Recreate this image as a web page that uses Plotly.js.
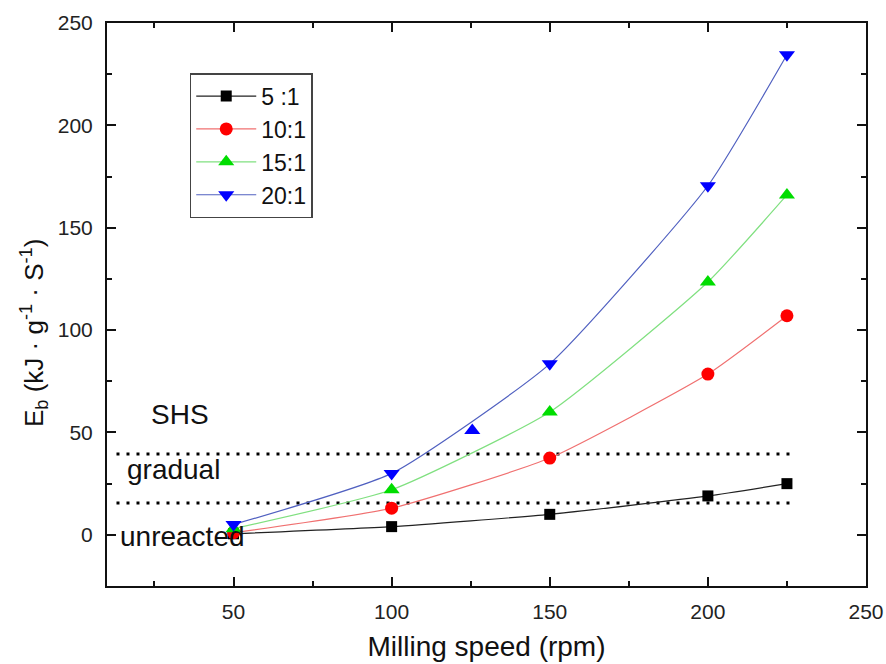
<!DOCTYPE html>
<html>
<head>
<meta charset="utf-8">
<script src="https://cdn.plot.ly/plotly-3.0.1.min.js"></script>
<style>
  html, body { margin: 0; padding: 0; background: #ffffff; }
  #chart { width: 886px; height: 664px; }
</style>
</head>
<body>
<div id="chart"></div>
<script>
// Milling speed (rpm) and ball-impact energy E_b for four ball-to-powder ratios
const speeds = [50, 100, 150, 200, 225];
const seriesNames = ['5 :1', '10:1', '15:1', '20:1'];
const ratio5 = [0.5, 4, 10, 19, 25];
const ratio10 = [1, 13, 37.5, 78.5, 107];
const ratio15 = [3, 22, 60, 123.5, 166];
const ratio20 = [5, 30, 83.5, 170.5, 234.5];

// Isolated extra point drawn as an up-triangle
const extraX = [125.5];
const extraY = [51];

// Reaction-regime boundaries and their labels
const boundaryX = [13, 228];
const upperBoundary = [39.5, 39.5];
const lowerBoundary = [15.5, 15.5];
const regimeLabels = ['SHS', 'gradual', 'unreacted'];
const regimeX = [33, 31, 34];
const regimeY = [59, 32, -1];

const markerColors = ['#000000', '#ff0000', '#00dd00', '#0000ff'];
const lineColors = ['#222222', '#f07070', '#80e080', '#5060c0'];
const symbols = ['square', 'circle', 'triangle-up', 'triangle-down'];
const sizes = [11, 13, 14, 14];
const values = [ratio5, ratio10, ratio15, ratio20];

const FONT = '"Liberation Sans", Arial, sans-serif';

const traces = values.map((ys, i) => ({
  type: 'scatter',
  mode: 'lines+markers',
  name: seriesNames[i],
  x: speeds,
  y: ys,
  line: { color: lineColors[i], width: 1.2, shape: 'spline', smoothing: 0.5 },
  marker: { color: markerColors[i], symbol: symbols[i], size: sizes[i], line: { width: 0 } }
}));

traces.push({
  type: 'scatter', mode: 'markers', x: extraX, y: extraY, showlegend: false,
  marker: { color: '#0000ff', symbol: 'triangle-up', size: 14, line: { width: 0 } }
});

[upperBoundary, lowerBoundary].forEach(ys => {
  traces.unshift({
    type: 'scatter', mode: 'lines', x: boundaryX, y: ys, showlegend: false,
    line: { color: '#000000', width: 3, dash: '3px,7px' }, hoverinfo: 'skip'
  });
});

const annotations = regimeLabels.map((t, i) => ({
  x: regimeX[i], y: regimeY[i], xref: 'x', yref: 'y', text: t, showarrow: false,
  font: { family: FONT, size: 28, color: '#111111' }
}));

annotations.push({
  xref: 'paper', yref: 'paper', x: -0.097, y: 0.45, xanchor: 'center', yanchor: 'middle',
  text: 'E<sub>b</sub> (kJ · g<sup>-1</sup> · S<sup>-1</sup>)', textangle: -90, showarrow: false,
  font: { family: FONT, size: 26, color: '#111111' }
});

const axisCommon = {
  showgrid: false, zeroline: false,
  showline: true, linecolor: '#111111', linewidth: 2, mirror: 'allticks',
  ticks: 'inside', ticklen: 9, tickwidth: 2, tickcolor: '#111111',
  tickfont: { family: FONT, size: 21, color: '#222222' },
  dtick: 50, tick0: 0,
  minor: { ticks: 'inside', ticklen: 5, tickwidth: 2, tickcolor: '#111111', dtick: 25, tick0: 0 }
};

const layout = {
  width: 886, height: 664,
  margin: { l: 107, r: 20, t: 23, b: 78 },
  paper_bgcolor: '#ffffff', plot_bgcolor: '#ffffff',
  showlegend: true,
  legend: {
    x: 0.109, y: 0.911, xanchor: 'left', yanchor: 'top',
    bgcolor: '#ffffff', bordercolor: '#444444', borderwidth: 1.5,
    font: { family: FONT, size: 23, color: '#111111' },
    itemwidth: 60, tracegroupgap: 0
  },
  xaxis: Object.assign({}, axisCommon, {
    range: [10, 250], ticklabelstandoff: 6,
    title: { text: 'Milling speed (rpm)', font: { family: FONT, size: 28, color: '#111111' }, standoff: 14 }
  }),
  yaxis: Object.assign({}, axisCommon, {
    range: [-25, 250], ticklabelstandoff: 8
  }),
  annotations: annotations
};

Plotly.newPlot('chart', traces, layout, { displayModeBar: false, staticPlot: true });
</script>
</body>
</html>
